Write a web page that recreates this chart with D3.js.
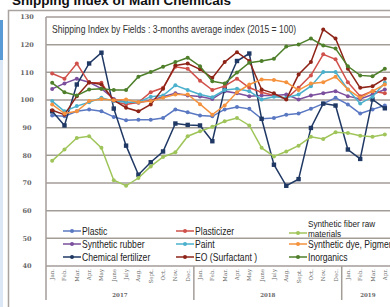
<!DOCTYPE html>
<html>
<head>
<meta charset="utf-8">
<script src="https://cdn.jsdelivr.net/npm/d3@7"></script>
<style>
  body { margin: 0; background: #fff; }
  svg { display: block; }
</style>
</head>
<body>
<script>
let months = ['Jan.', 'Feb.', 'Mar.', 'Apr.', 'May', 'June', 'July', 'Aug.', 'Sept.', 'Oct.', 'Nov.', 'Dec.',
    'Jan.', 'Feb.', 'Mar.', 'Apr.', 'May', 'June', 'July', 'Aug.', 'Sept.', 'Oct.', 'Nov.', 'Dec.',
    'Jan.', 'Feb.', 'Mar.', 'Apr.'];
let years = [{label: '2017', n: 12}, {label: '2018', n: 12}, {label: '2019', n: 4}];
let yTicks = [40, 50, 60, 70, 80, 90, 100, 110, 120, 130];

let plastic = [94.4, 94.1, 95.9, 96.6, 95.9, 93.9, 92.7, 92.9, 92.9, 93.5, 96.6, 95.6, 94.4, 94.1, 96.6, 97.5, 96.8, 93.2, 93.5, 94.7, 95.1, 96.8, 98.7, 100.8, 98.4, 95.1, 96.6, 98.0];
let syntheticRubber = [104.0, 106.0, 107.7, 106.4, 104.1, 100.4, 99.2, 99.0, 99.9, 101.2, 102.4, 101.6, 101.3, 100.4, 103.2, 102.4, 101.4, 101.6, 101.6, 102.0, 100.2, 101.6, 102.4, 103.2, 101.4, 100.4, 102.0, 103.8];
let chemicalFertilizer = [95.9, 90.8, 105.6, 113.2, 117.1, 96.9, 83.5, 73.0, 77.5, 81.4, 91.5, 91.0, 90.8, 85.1, 104.0, 114.1, 116.8, 93.2, 76.6, 69.0, 71.4, 89.9, 98.7, 98.0, 82.1, 78.7, 100.2, 97.0];
let plasticizer = [109.6, 107.7, 113.2, 106.2, 106.2, 99.6, 98.4, 99.2, 102.8, 104.4, 112.0, 111.3, 107.0, 103.6, 105.0, 107.7, 104.4, 102.8, 101.6, 100.4, 104.4, 108.9, 116.5, 114.7, 106.4, 101.4, 103.2, 102.4];
let paint = [99.6, 95.9, 97.8, 99.2, 100.8, 99.6, 99.2, 99.2, 101.2, 101.6, 105.3, 103.6, 102.0, 101.0, 103.6, 104.1, 103.2, 100.2, 101.2, 100.8, 102.0, 105.0, 110.1, 110.1, 103.8, 98.7, 101.2, 106.2];
let eoSurfactant = [96.3, 94.7, 101.4, 106.4, 105.6, 99.9, 97.2, 95.9, 98.4, 104.1, 112.5, 113.2, 111.1, 108.0, 113.7, 117.3, 114.1, 103.8, 102.4, 100.2, 109.2, 113.7, 125.5, 122.2, 111.3, 104.4, 105.0, 107.7];
let syntheticFiber = [78.0, 82.1, 86.3, 86.9, 82.7, 71.0, 69.0, 71.8, 76.0, 79.4, 81.1, 86.9, 88.7, 90.3, 92.3, 93.5, 90.8, 82.7, 79.6, 81.4, 83.5, 86.7, 85.9, 88.3, 88.1, 87.1, 86.7, 87.5];
let syntheticDye = [98.4, 95.1, 95.9, 99.6, 100.4, 99.9, 100.2, 99.2, 99.6, 100.8, 102.0, 102.0, 98.5, 94.7, 98.0, 102.8, 105.6, 107.4, 107.2, 106.4, 103.6, 106.0, 106.4, 108.4, 103.8, 100.8, 103.2, 105.6];
let inorganics = [106.2, 102.8, 101.6, 103.8, 104.1, 103.6, 103.6, 108.4, 110.1, 112.0, 113.7, 115.3, 112.2, 106.8, 106.0, 109.9, 113.5, 114.1, 114.9, 119.3, 120.1, 122.2, 119.7, 118.6, 112.2, 108.9, 108.6, 111.3];

// legend order: column by column, three rows each
let series = [
    {name: ['Plastic'], values: plastic, color: '#5a78c2', col: 0, row: 0},
    {name: ['Synthetic rubber'], values: syntheticRubber, color: '#7b4f9d', col: 0, row: 1},
    {name: ['Chemical fertilizer'], values: chemicalFertilizer, color: '#1f3864', col: 0, row: 2, square: true},
    {name: ['Plasticizer'], values: plasticizer, color: '#d0504a', col: 1, row: 0},
    {name: ['Paint'], values: paint, color: '#4bb0cc', col: 1, row: 1},
    {name: ['EO (Surfactant )'], values: eoSurfactant, color: '#8e2418', col: 1, row: 2},
    {name: ['Synthetic fiber raw', 'materials'], values: syntheticFiber, color: '#9fc55a', col: 2, row: 0},
    {name: ['Synthetic dye, Pigment'], values: syntheticDye, color: '#f5923e', col: 2, row: 1},
    {name: ['Inorganics'], values: inorganics, color: '#4e7f2a', col: 2, row: 2}
];

let W = 390, H = 307;
let plot = {left: 46, right: 391, top: 17, bottom: 266};
let narrow = "'Liberation Sans', Arial, sans-serif";
let squeeze = 0.86; // no condensed font installed, so squeeze horizontally

let svg = d3.select('body').append('svg')
    .attr('width', W)
    .attr('height', H);

let x = d3.scaleBand()
    .domain(d3.range(months.length))
    .range([plot.left, plot.right]);
let cx = i => x(i) + x.bandwidth() / 2;

let y = d3.scaleLinear()
    .domain([40, 130])
    .range([plot.bottom, plot.top]);

// left blue strip + outer frame
svg.append('rect').attr('x', 0).attr('y', 60).attr('width', 3).attr('height', H - 60).attr('fill', '#dbe7f5');
svg.append('rect').attr('x', 0).attr('y', 20).attr('width', 3).attr('height', 40).attr('fill', '#5b9bd5');
svg.append('path')
    .attr('d', `M8.5,${H} V10.5 H${W}`)
    .attr('fill', 'none')
    .attr('stroke', '#a8a39e')
    .attr('stroke-width', 1.5);

svg.append('text')
    .attr('x', 12)
    .attr('y', 5)
    .attr('font-family', 'Arial, Liberation Sans, sans-serif')
    .attr('font-weight', 'bold')
    .attr('font-size', 13.5)
    .attr('fill', '#111')
    .text('Shipping Index of Main Chemicals');

// grid
svg.append('g').selectAll('line')
    .data(yTicks)
    .join('line')
    .attr('x1', plot.left)
    .attr('x2', W)
    .attr('y1', d => y(d))
    .attr('y2', d => y(d))
    .attr('stroke', '#a39d98')
    .attr('stroke-width', 1.5);

svg.append('g').selectAll('text')
    .data(yTicks)
    .join('text')
    .attr('x', 27)
    .attr('y', d => y(d))
    .attr('dy', '0.35em')
    .attr('text-anchor', 'middle')
    .attr('font-family', "'DejaVu Serif', serif")
    .attr('font-weight', 'bold')
    .attr('font-size', 6.5)
    .attr('fill', '#666')
    .text(d => d);

// axis + year separators
let bounds = [0];
years.forEach(d => bounds.push(bounds[bounds.length - 1] + d.n));
svg.append('line')
    .attr('x1', plot.left).attr('x2', plot.left)
    .attr('y1', plot.top).attr('y2', 300)
    .attr('stroke', '#a39d98').attr('stroke-width', 1.5);
svg.append('g').selectAll('line')
    .data(bounds.slice(1, -1))
    .join('line')
    .attr('x1', d => x(d)).attr('x2', d => x(d))
    .attr('y1', plot.bottom).attr('y2', 300)
    .attr('stroke', '#a39d98').attr('stroke-width', 1.5);

svg.append('text')
    .attr('transform', `translate(52,33) scale(${squeeze},1)`)
    .attr('font-family', narrow)
    .attr('font-size', 10)
    .attr('fill', '#333')
    .text('Shipping Index by Fields : 3-months average index (2015 = 100)');

// month labels
svg.append('g').selectAll('text')
    .data(months)
    .join('text')
    .attr('transform', (d, i) => `translate(${cx(i) + 2},${plot.bottom + 3}) rotate(-90)`)
    .attr('text-anchor', 'end')
    .attr('font-family', "'DejaVu Serif', serif")
    .attr('font-size', 5.5)
    .attr('fill', '#666')
    .text(d => d);

svg.append('g').selectAll('text')
    .data(years)
    .join('text')
    .attr('x', (d, i) => i < years.length - 1 ? (x(bounds[i]) + x(bounds[i + 1])) / 2 : (x(bounds[i]) + W) / 2 + 2)
    .attr('y', 297)
    .attr('text-anchor', 'middle')
    .attr('font-family', "'DejaVu Serif', serif")
    .attr('font-weight', 'bold')
    .attr('font-size', 5.5)
    .attr('fill', '#666')
    .text(d => d.label);

// series
let line = d3.line()
    .x((d, i) => cx(i))
    .y(d => y(d));

let gs = svg.append('g').selectAll('g')
    .data(series)
    .join('g');

gs.append('path')
    .attr('d', d => line(d.values))
    .attr('fill', 'none')
    .attr('stroke', d => d.color)
    .attr('stroke-width', 1.5);

gs.each(function(s) {
    let g = d3.select(this);
    if (s.square) {
        g.selectAll('rect')
            .data(s.values)
            .join('rect')
            .attr('x', (d, i) => cx(i) - 2.2)
            .attr('y', d => y(d) - 2.2)
            .attr('width', 4.4)
            .attr('height', 4.4)
            .attr('fill', s.color);
    } else {
        g.selectAll('circle')
            .data(s.values)
            .join('circle')
            .attr('cx', (d, i) => cx(i))
            .attr('cy', d => y(d))
            .attr('r', 2)
            .attr('fill', s.color);
    }
});

// legend
let colX = [63, 176, 289];
let rowY = [231, 244, 257];
let lg = svg.append('g').selectAll('g')
    .data(series)
    .join('g')
    .attr('transform', d => `translate(${colX[d.col]},${rowY[d.row] + (d.name.length > 1 ? 2 : 0)})`);

lg.append('line')
    .attr('x1', 0).attr('x2', 18)
    .attr('stroke', d => d.color)
    .attr('stroke-width', 1.5);
lg.append('circle')
    .attr('cx', 9)
    .attr('r', 2)
    .attr('fill', d => d.color);
lg.append('text')
    .attr('transform', `translate(19,0) scale(${squeeze},1)`)
    .attr('font-family', narrow)
    .attr('font-size', d => d.name.length > 1 ? 9.5 : 10)
    .attr('fill', '#222')
    .selectAll('tspan')
    .data(d => d.name.map((t, k) => ({t, k, n: d.name.length})))
    .join('tspan')
    .attr('x', 0)
    .attr('y', d => d.n > 1 ? (d.k - 1) * 10 + 3.5 : 3.5)
    .text(d => d.t);
</script>
</body>
</html>
